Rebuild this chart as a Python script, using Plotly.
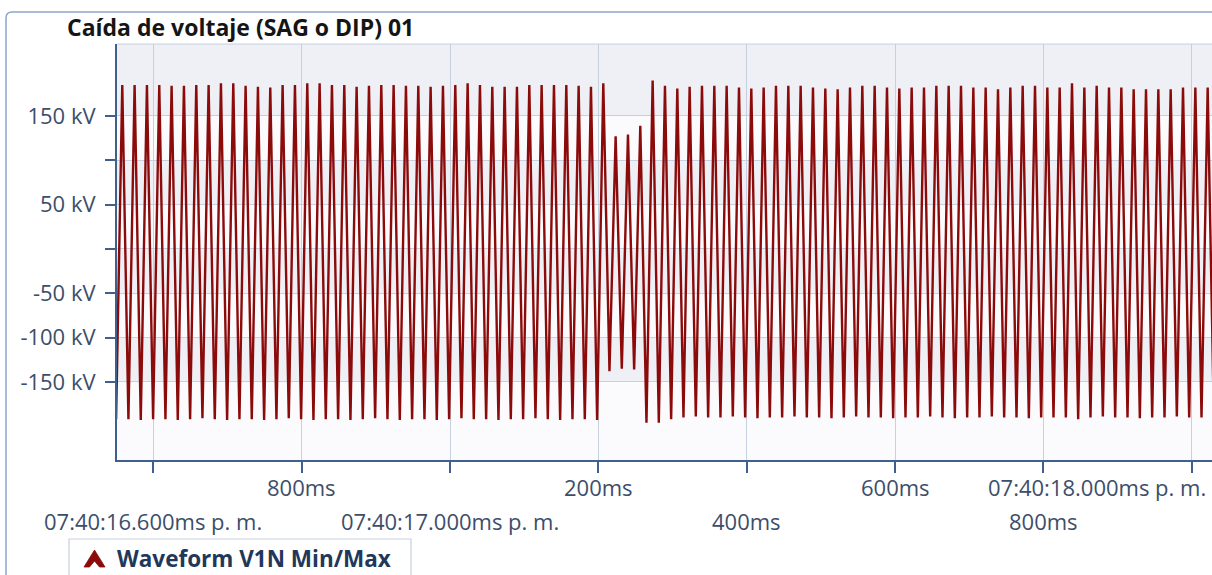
import plotly.graph_objects as go

# ---------------- data ----------------
title_text = "Caída de voltaje (SAG o DIP) 01"
legend_text = "Waveform V1N Min/Max"

# time axis in ms after 07:40:16 p. m.; extrema of the V1N waveform
first_peak_ms = 558.2
cycle_ms = 16.627

peaks_kv = [
    185, 185, 185, 185, 184, 184, 185, 185, 187, 187,
    184, 183, 182, 185, 185, 187, 187, 185, 185, 183,
    184, 185, 185, 184, 184, 183, 184, 185, 187, 185,
    183, 183, 183, 185, 185, 185, 185, 184, 183, 187,
    127, 129, 139,
    190, 184, 181, 183, 184, 184, 184, 182, 181, 182,
    184, 184, 184, 182, 181, 180, 182, 184, 184, 182,
    181, 182, 182, 184, 184, 184, 182, 182, 180, 182,
    184, 184, 182, 182, 187, 182, 184, 182, 182, 180,
    180, 180, 180, 182, 182, 182,
]
# troughs: the first one precedes the first peak
troughs_kv = [
    -192,
    -192, -193, -192, -192, -193, -192, -191, -192, -193, -192,
    -192, -193, -192, -191, -192, -193, -192, -192, -193, -192,
    -191, -192, -193, -192, -192, -193, -192, -191, -192, -192,
    -193, -192, -192, -191, -192, -193, -192, -192, -193,
    -138, -135, -136,
    -196,
    -196, -192, -190, -189, -190, -190, -189, -190, -191, -190,
    -190, -189, -190, -190, -191, -190, -189, -190, -190, -191,
    -190, -190, -189, -190, -191, -190, -190, -189, -190, -190,
    -191, -190, -190, -190, -192, -190, -189, -190, -190, -191,
    -190, -190, -189, -190, -190,
    -190,
]
assert len(troughs_kv) == len(peaks_kv) + 1, (len(peaks_kv), len(troughs_kv))

y_tick_vals = [-150, -100, -50, 0, 50, 100, 150]
y_tick_text = ["-150 kV", "-100 kV", "-50 kV", "", "50 kV", "", "150 kV"]

x_tick_vals = [600, 800, 1000, 1200, 1400, 1600, 1800, 2000]
x_tick_text = ["07:40:16.600ms p. m.", "800ms", "07:40:17.000ms p. m.", "200ms",
               "400ms", "600ms", "800ms", "07:40:18.000ms p. m."]
x_tick_row = [2, 1, 2, 1, 2, 1, 2, 1]

x_range = [551.1, 2027.2]
y_range = [-238.0, 231.2]

# ---------------- build min/max zig-zag ----------------
xs, ys = [], []
for i, tv in enumerate(troughs_kv):
    xs.append(first_peak_ms + (i - 0.5) * cycle_ms)
    ys.append(tv)
    if i < len(peaks_kv):
        xs.append(first_peak_ms + i * cycle_ms)
        ys.append(peaks_kv[i])

# ---------------- layout geometry ----------------
W, H = 1212, 575
ML, MR, MT, MB = 117, 0, 44, 115
PW = W - ML - MR
PH = H - MT - MB


def px(x):
    return (x - ML) / PW


def py(y):
    return (H - MB - y) / PH


FONT = "Open Sans"
TICK_COLOR = "#3d4e6a"
AXIS_COLOR = "#3f5f8c"
GRID_COLOR = "#c6d0de"
BAND_GRAY = "#eef0f5"
BAND_WHITE = "#fbfbfd"
WAVE_COLOR = "#8b0a0a"

fig = go.Figure()
fig.add_trace(go.Scatter(
    x=xs, y=ys, mode="lines",
    line=dict(color=WAVE_COLOR, width=2.4),
    name=legend_text, showlegend=False, hoverinfo="skip",
))

shapes = []
# alternating background bands
bounds = [y_range[1]] + sorted(y_tick_vals, reverse=True) + [y_range[0]]
for i in range(len(bounds) - 1):
    shapes.append(dict(type="rect", xref="paper", yref="y", x0=0, x1=1,
                       y0=bounds[i + 1], y1=bounds[i], layer="below",
                       line=dict(width=0),
                       fillcolor=BAND_GRAY if i % 2 == 0 else BAND_WHITE))
# top border of plot area
shapes.append(dict(type="line", xref="paper", yref="paper", x0=0, x1=1, y0=1, y1=1,
                   line=dict(color=GRID_COLOR, width=1), layer="below"))

# outer panel border (rounded corner, continues beyond the picture)
r = 6
xl, yt = px(6), py(12)
panel_path = (f"M {xl},{py(620)} L {xl},{py(12 + r)} "
              f"Q {xl},{yt} {px(6 + r)},{yt} L {px(1260)},{yt}")
shapes.append(dict(type="path", xref="paper", yref="paper", path=panel_path,
                   line=dict(color="#8ea7c7", width=1.5)))

# legend box and caret symbol
shapes.append(dict(type="rect", xref="paper", yref="paper",
                   x0=px(69), x1=px(411), y0=py(600), y1=py(539),
                   line=dict(color="#c8d1de", width=1.2), fillcolor="white"))
caret = [(84, 567), (94.5, 550), (105, 567), (99.5, 567), (94.5, 561), (89.5, 567)]
caret_path = "M " + " L ".join(f"{px(a)},{py(b)}" for a, b in caret) + " Z"
shapes.append(dict(type="path", xref="paper", yref="paper", path=caret_path,
                   fillcolor="#8b0a0a", line=dict(color="#8b0a0a", width=0.8)))

annotations = []
row_y = {1: py(487), 2: py(521)}
for v, t, rw in zip(x_tick_vals, x_tick_text, x_tick_row):
    if v == x_tick_vals[-1]:
        # last label is pushed left to stay inside the chart
        annotations.append(dict(x=px(1208), xref="paper", xanchor="right",
                                y=row_y[rw], yref="paper", yanchor="middle",
                                text=t, showarrow=False,
                                font=dict(family=FONT, size=22, color=TICK_COLOR)))
    else:
        annotations.append(dict(x=v, xref="x", xanchor="center",
                                y=row_y[rw], yref="paper", yanchor="middle",
                                text=t, showarrow=False,
                                font=dict(family=FONT, size=22, color=TICK_COLOR)))

annotations.append(dict(x=px(115), xref="paper", xanchor="left",
                        y=py(558), yref="paper", yanchor="middle",
                        text=legend_text, showarrow=False,
                        font=dict(family=FONT, size=22.5, color="#22385a", weight="bold")))

fig.update_layout(
    width=W, height=H,
    margin=dict(l=ML, r=MR, t=MT, b=MB, pad=0, autoexpand=False),
    paper_bgcolor="white", plot_bgcolor="white",
    title=dict(text=title_text, x=67 / W, xanchor="left", xref="container",
               y=1 - 28 / H, yanchor="middle", yref="container",
               font=dict(family=FONT, size=23, color="#151515", weight="bold")),
    shapes=shapes, annotations=annotations,
    showlegend=False,
)
fig.update_xaxes(
    range=x_range, tickvals=x_tick_vals, ticktext=[""] * len(x_tick_vals),
    showticklabels=False, ticks="outside", ticklen=11, tickwidth=2,
    tickcolor=AXIS_COLOR, showline=True, linecolor=AXIS_COLOR, linewidth=2,
    showgrid=True, gridcolor=GRID_COLOR, gridwidth=1, zeroline=False,
)
fig.update_yaxes(
    range=y_range, tickvals=y_tick_vals, ticktext=y_tick_text,
    ticks="outside", ticklen=10, tickwidth=2, tickcolor=AXIS_COLOR,
    ticklabelstandoff=5,
    tickfont=dict(family=FONT, size=22, color=TICK_COLOR),
    showline=True, linecolor=AXIS_COLOR, linewidth=2,
    showgrid=True, gridcolor=GRID_COLOR, gridwidth=1, zeroline=False,
)

fig.write_html(
    "out.html",
    config={"displayModeBar": False},
    post_script="document.body.style.margin='0';document.body.style.overflow='hidden';",
)
